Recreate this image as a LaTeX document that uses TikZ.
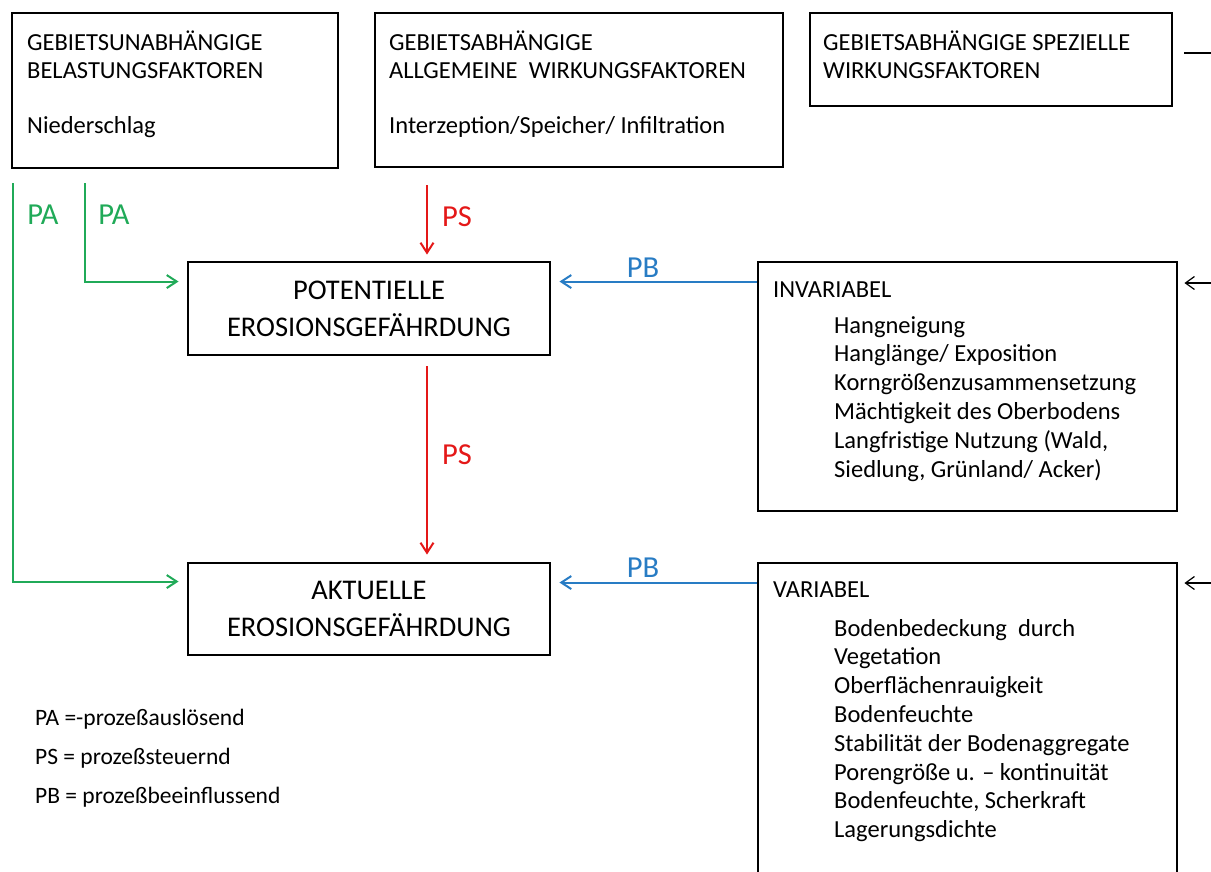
\documentclass[tikz,border=0pt]{standalone}
\usepackage{fontspec}
\setmainfont{Carlito}
\usetikzlibrary{positioning, arrows.meta}

\definecolor{pagreen}{RGB}{32,170,88}
\definecolor{psred}{RGB}{228,24,24}
\definecolor{pbblue}{RGB}{40,124,196}

\begin{document}
\begin{tikzpicture}[x=1pt, y=-1pt,
    box/.style={draw, line width=2.9pt, rectangle, inner sep=0pt},
    head/.style={anchor=base west, inner sep=0pt, font=\fontsize{24.5}{28}\selectfont},
    item/.style={anchor=base west, inner sep=0pt, font=\fontsize{24.5}{28}\selectfont},
    legend/.style={anchor=base west, inner sep=0pt, font=\fontsize{23.5}{28}\selectfont},
    big/.style={align=center, font=\fontsize{28.5}{37}\selectfont},
    lbl/.style={inner sep=0pt, font=\fontsize{30.5}{32}\selectfont},
    pa/.style={draw=pagreen, line width=2pt, -{Straight Barb[length=10pt, width=13pt]}},
    ps/.style={draw=psred, line width=2pt, -{Straight Barb[length=10pt, width=13pt]}},
    pb/.style={draw=pbblue, line width=2pt, -{Straight Barb[length=10pt, width=13pt]}},
    ext/.style={draw, line width=1.2pt, -{Straight Barb[length=9pt, width=13pt]}}
]
    \useasboundingbox (0,0) rectangle (1211,871);

    % upper row
    \node[box, minimum width=326pt, minimum height=155pt] (belast) at (175,90.5) {};
    \node[box, minimum width=408pt, minimum height=154pt] (allg) at (579,90) {};
    \node[box, minimum width=362pt, minimum height=93pt] (spez) at (991,59.5) {};

    \node[head] (belast1) at (27,50) {GEBIETSUNABHÄNGIGE};
    \node[head] (belast2) at (27,78) {BELASTUNGSFAKTOREN};
    \node[head] (belast3) at (27,133) {Niederschlag};
    \node[head] (allg1) at (389,50) {GEBIETSABHÄNGIGE};
    \node[head] (allg2) at (389,78) {ALLGEMEINE\ \ WIRKUNGSFAKTOREN};
    \node[head] (allg3) at (389,133) {Interzeption/Speicher/ Infiltration};
    \node[head] (spez1) at (823,50) {GEBIETSABHÄNGIGE SPEZIELLE};
    \node[head] (spez2) at (823,78) {WIRKUNGSFAKTOREN};

    % middle column
    \node[box, big, minimum width=362pt, minimum height=93pt] (pot) at (369,308.5) {POTENTIELLE\\EROSIONSGEFÄHRDUNG};
    \node[box, big, minimum width=362pt, minimum height=92pt] (akt) at (369,609) {AKTUELLE\\EROSIONSGEFÄHRDUNG};

    % right column
    \node[box, minimum width=419pt, minimum height=249pt] (inv) at (967.5,386.5) {};
    \node[box, minimum width=419pt, minimum height=337pt] (var) at (967.5,731.5) {};

    \node[item] (invhead) at (773,297) {INVARIABEL};
    \foreach \txt [count=\i] in {Hangneigung, Hanglänge/ Exposition, Korngrößenzusammensetzung,
        Mächtigkeit des Oberbodens, {Langfristige Nutzung (Wald,}, {Siedlung, Grünland/ Acker)}}
        \node[item] (inv\i) at (834,{333+28.8*(\i-1)}) {\txt};

    \node[item] (varhead) at (773,597) {VARIABEL};
    \foreach \txt [count=\i] in {Bodenbedeckung\ \ durch, Vegetation, Oberflächenrauigkeit, Bodenfeuchte,
        Stabilität der Bodenaggregate, Porengröße u. – kontinuität, {Bodenfeuchte, Scherkraft}, Lagerungsdichte}
        \node[item] (var\i) at (834,{636+28.8*(\i-1)}) {\txt};

    % legend
    \node[legend] (legpa) at (35,725) {PA =-prozeßauslösend};
    \node[legend] (legps) at (35,764) {PS = prozeßsteuernd};
    \node[legend] (legpb) at (35,803) {PB = prozeßbeeinflussend};

    % free ends
    \coordinate (paout) at (13,183);
    \coordinate (pain) at (85,183);
    \coordinate (psin) at (427,185);
    \coordinate (invR) at (1211,283);
    \coordinate (varR) at (1211,583);
    \coordinate (spezR) at (1211,53);

    % connectors
    \draw[pa, shorten >=8pt] (paout) |- ([yshift=-20pt]akt.north west);
    \draw[pa, shorten >=8pt] (pain) |- ([yshift=-21pt]pot.north west);
    \draw[ps, shorten >=6pt] (psin) -- (psin |- pot.north);
    \draw[ps, shorten <=10pt, shorten >=7pt] ([xshift=58pt]pot.south) -- ([xshift=58pt]akt.north);
    \draw[pb, shorten >=8pt] ([yshift=-21pt]inv.north west) -- ([yshift=-21pt]pot.north east);
    \draw[pb, shorten >=8pt] ([yshift=-21pt]var.north west) -- ([yshift=-21pt]akt.north east);
    \draw[ext, shorten >=6pt] (invR) -- (invR -| inv.east);
    \draw[ext, shorten >=6pt] (varR) -- (varR -| var.east);
    \draw[line width=1.2pt, shorten <=11pt] (spezR -| spez.east) -- (spezR);

    % labels
    \node[lbl, text=pagreen] (lpa1) at (43,215) {PA};
    \node[lbl, text=pagreen] (lpa2) at (114,215) {PA};
    \node[lbl, text=psred] (lps1) at (457,217) {PS};
    \node[lbl, text=psred] (lps2) at (457,455) {PS};
    \node[lbl, text=pbblue] (lpb1) at (643,268) {PB};
    \node[lbl, text=pbblue] (lpb2) at (643,568) {PB};
\end{tikzpicture}
\end{document}
